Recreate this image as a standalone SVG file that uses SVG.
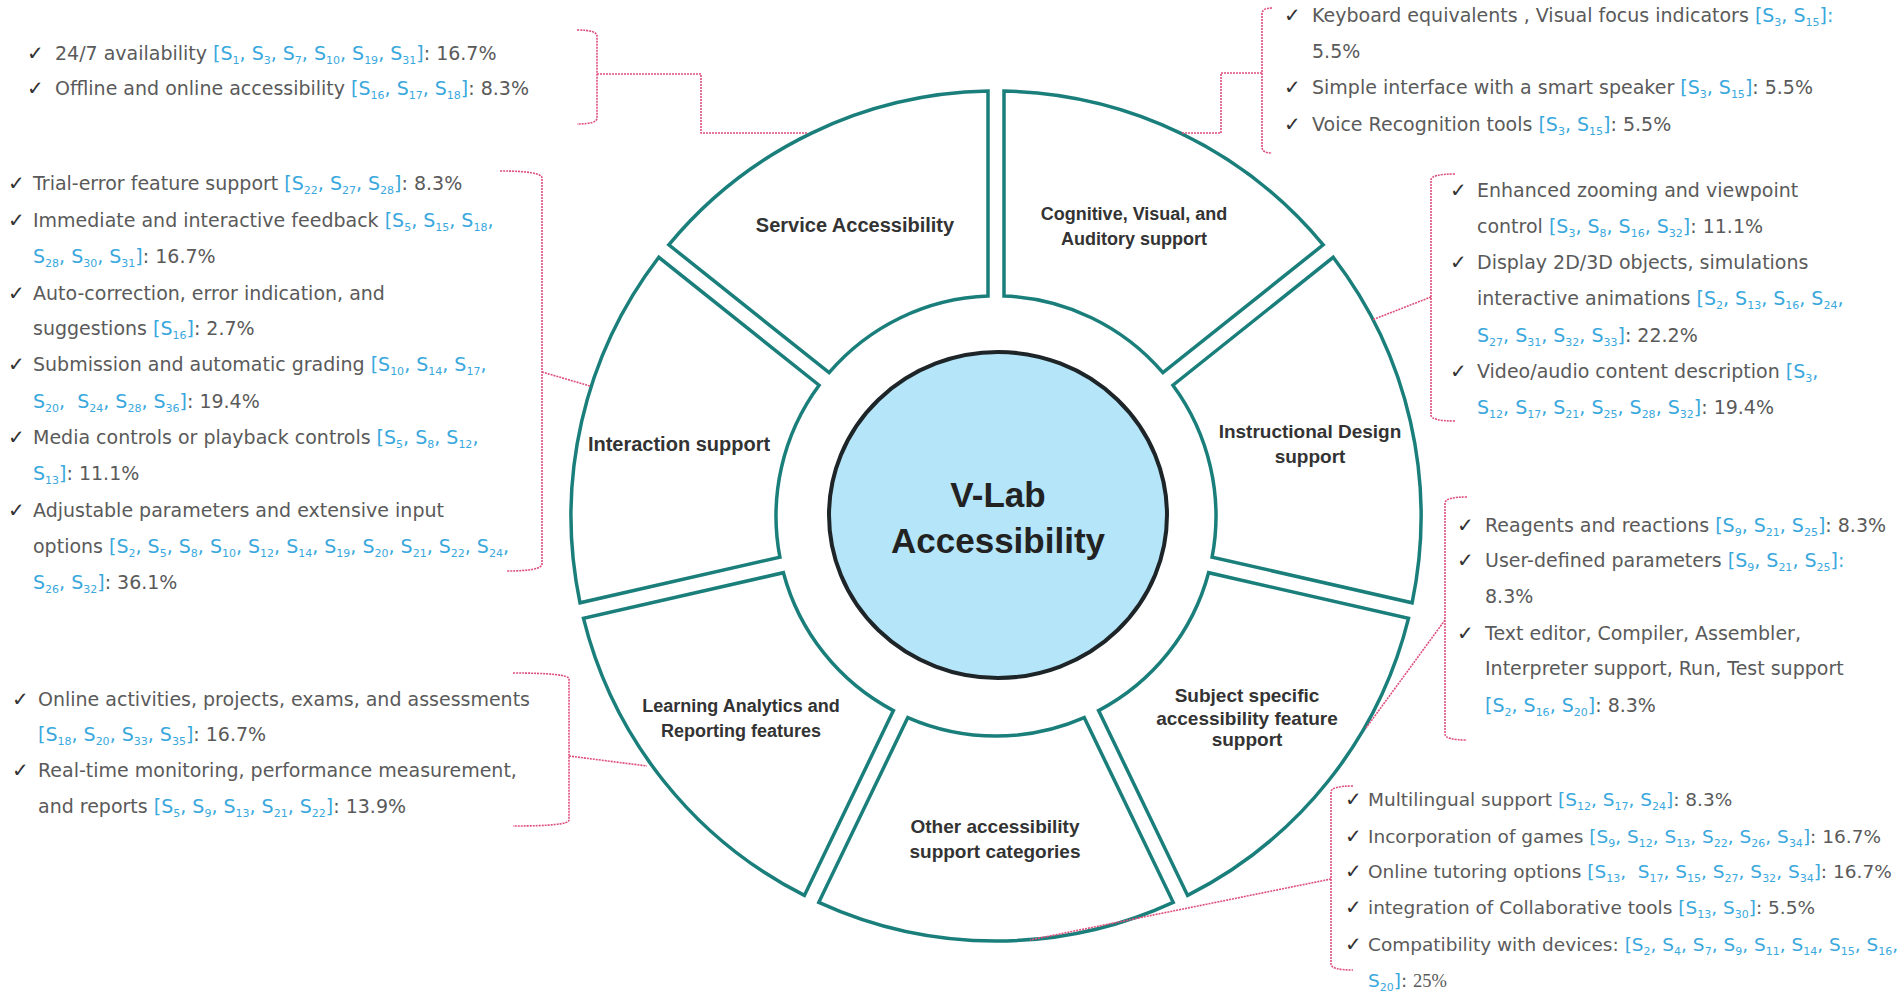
<svg xmlns="http://www.w3.org/2000/svg" width="1902" height="1001" viewBox="0 0 1902 1001">
<style>
.seg{fill:#fff;stroke:#1a7f7b;stroke-width:3.5;stroke-linejoin:miter}
.lbl{font-family:"Liberation Sans",Arial,sans-serif;font-weight:bold;fill:#333;text-anchor:middle}
.ctr{font-family:"Liberation Sans",Arial,sans-serif;font-weight:bold;font-size:35px;fill:#222;text-anchor:middle}
.t{font-family:"DejaVu Sans",sans-serif;font-size:19px;fill:#5a5a5a}
.tf{font-size:18.5px}
.r{fill:#3aa8dd}
.s{font-size:11px;baseline-shift:-4px}
.ck{font-family:"DejaVu Sans",sans-serif;font-size:20px;fill:#333}
.br{fill:none;stroke:#de4f7c;stroke-width:1.6;stroke-dasharray:2 1}
</style>
<rect width="1902" height="1001" fill="#fff"/>

<g id="seg-cognitive">
<path class="seg" d="M1004,91.1 A425,425 0 0 1 1323.2,244.8 L1162.9,372.7 A220,220 0 0 0 1004,296.1 Z"/>
<text class="lbl" font-size="18" x="1134" y="220">Cognitive, Visual, and</text>
<text class="lbl" font-size="18" x="1134" y="245">Auditory support</text>
</g>
<g id="seg-instructional">
<path class="seg" d="M1333.2,257.3 A425,425 0 0 1 1412.1,602.8 L1212.1,557.1 A220,220 0 0 0 1172.9,385.2 Z"/>
<text class="lbl" font-size="19" x="1310" y="438">Instructional Design</text>
<text class="lbl" font-size="19" x="1310" y="463">support</text>
</g>
<g id="seg-subject">
<path class="seg" d="M1408.5,618.4 A425,425 0 0 1 1187.6,895.4 L1098.6,710.6 A220,220 0 0 0 1208.6,572.7 Z"/>
<text class="lbl" font-size="19" x="1247" y="702">Subject specific</text>
<text class="lbl" font-size="19" x="1247" y="725">accessibility feature</text>
<text class="lbl" font-size="19" x="1247" y="746">support</text>
</g>
<g id="seg-other">
<path class="seg" d="M1173.2,902.3 A425,425 0 0 1 818.8,902.3 L907.8,717.6 A220,220 0 0 0 1084.2,717.6 Z"/>
<text class="lbl" font-size="19" x="995" y="833">Other accessibility</text>
<text class="lbl" font-size="19" x="995" y="858">support categories</text>
</g>
<g id="seg-learning">
<path class="seg" d="M804.4,895.4 A425,425 0 0 1 583.5,618.4 L783.4,572.7 A220,220 0 0 0 893.4,710.6 Z"/>
<text class="lbl" font-size="18" x="741" y="712">Learning Analytics and</text>
<text class="lbl" font-size="18" x="741" y="737">Reporting features</text>
</g>
<g id="seg-interaction">
<path class="seg" d="M580,602.8 A425,425 0 0 1 658.8,257.3 L819.1,385.2 A220,220 0 0 0 779.9,557.1 Z"/>
<text class="lbl" font-size="20" x="679" y="451">Interaction support</text>
</g>
<g id="seg-service">
<path class="seg" d="M668.8,244.8 A425,425 0 0 1 988,91.1 L988,296.1 A220,220 0 0 0 829.1,372.7 Z"/>
<text class="lbl" font-size="20" x="855" y="232">Service Accessibility</text>
</g>
<g id="center">
<ellipse cx="998" cy="515" rx="169" ry="163" fill="#b5e5f8" stroke="#1e2528" stroke-width="4"/>
<text class="ctr" x="998" y="507">V-Lab</text>
<text class="ctr" x="998" y="553">Accessibility</text>
</g>

<g id="connectors">
<path class="br" d="M577,30 Q597,30 597,36 L597,118 Q597,124 577,124 M597,74 H701 V133 H808"/>
<path class="br" d="M1272,8 Q1262,8 1262,14 V147 Q1262,153 1272,153 M1262,73 H1221 V133 H1181"/>
<path class="br" d="M500,171 Q542,171 542,178 V564 Q542,571 507,571 M542,372 L590,386"/>
<path class="br" d="M1455,174 Q1431,174 1431,180 V415 Q1431,421 1455,421 M1431,297 L1372,320"/>
<path class="br" d="M1467,497 Q1445,497 1445,503 V734 Q1445,740 1467,740 M1445,620 L1366,728"/>
<path class="br" d="M1353,786 Q1331,786 1331,792 V964 Q1331,970 1353,970 M1331,879 L1030,940"/>
<path class="br" d="M513,673 Q569,673 569,679 V820 Q569,826 513,826 M569,756 L647,766"/>
</g>

<g id="list-service">
<text class="ck" x="27" y="60">✓</text>
<text class="t" x="55" y="60" font-size="18.5">24/7 availability <tspan class="r">[S<tspan class="s">1</tspan>, S<tspan class="s">3</tspan>, S<tspan class="s">7</tspan>, S<tspan class="s">10</tspan>, S<tspan class="s">19</tspan>, S<tspan class="s">31</tspan>]</tspan>: 16.7%</text>
<text class="ck" x="27" y="95">✓</text>
<text class="t" x="55" y="95">Offline and online accessibility <tspan class="r">[S<tspan class="s">16</tspan>, S<tspan class="s">17</tspan>, S<tspan class="s">18</tspan>]</tspan>: 8.3%</text>
</g>

<g id="list-cognitive">
<text class="ck" x="1284" y="22">✓</text>
<text class="t" x="1312" y="22">Keyboard equivalents , Visual focus indicators <tspan class="r">[S<tspan class="s">3</tspan>, S<tspan class="s">15</tspan>]:</tspan></text>
<text class="t" x="1312" y="58">5.5%</text>
<text class="ck" x="1284" y="94">✓</text>
<text class="t" x="1312" y="94">Simple interface with a smart speaker <tspan class="r">[S<tspan class="s">3</tspan>, S<tspan class="s">15</tspan>]</tspan>: 5.5%</text>
<text class="ck" x="1284" y="131">✓</text>
<text class="t" x="1312" y="131">Voice Recognition tools <tspan class="r">[S<tspan class="s">3</tspan>, S<tspan class="s">15</tspan>]</tspan>: 5.5%</text>
</g>

<g id="list-interaction">
<text class="ck" x="8" y="190">✓</text>
<text class="t" x="33" y="190">Trial-error feature support <tspan class="r">[S<tspan class="s">22</tspan>, S<tspan class="s">27</tspan>, S<tspan class="s">28</tspan>]</tspan>: 8.3%</text>
<text class="ck" x="8" y="227">✓</text>
<text class="t" x="33" y="227">Immediate and interactive feedback <tspan class="r">[S<tspan class="s">5</tspan>, S<tspan class="s">15</tspan>, S<tspan class="s">18</tspan>,</tspan></text>
<text class="t" x="33" y="263"><tspan class="r">S<tspan class="s">28</tspan>, S<tspan class="s">30</tspan>, S<tspan class="s">31</tspan>]</tspan>: 16.7%</text>
<text class="ck" x="8" y="300">✓</text>
<text class="t" x="33" y="300">Auto-correction, error indication, and</text>
<text class="t" x="33" y="335">suggestions <tspan class="r">[S<tspan class="s">16</tspan>]</tspan>: 2.7%</text>
<text class="ck" x="8" y="371">✓</text>
<text class="t" x="33" y="371">Submission and automatic grading <tspan class="r">[S<tspan class="s">10</tspan>, S<tspan class="s">14</tspan>, S<tspan class="s">17</tspan>,</tspan></text>
<text class="t" x="33" y="408"><tspan class="r">S<tspan class="s">20</tspan>,&#160; S<tspan class="s">24</tspan>, S<tspan class="s">28</tspan>, S<tspan class="s">36</tspan>]</tspan>: 19.4%</text>
<text class="ck" x="8" y="444">✓</text>
<text class="t" x="33" y="444">Media controls or playback controls <tspan class="r">[S<tspan class="s">5</tspan>, S<tspan class="s">8</tspan>, S<tspan class="s">12</tspan>,</tspan></text>
<text class="t" x="33" y="480"><tspan class="r">S<tspan class="s">13</tspan>]</tspan>: 11.1%</text>
<text class="ck" x="8" y="517">✓</text>
<text class="t" x="33" y="517">Adjustable parameters and extensive input</text>
<text class="t" x="33" y="553">options <tspan class="r">[S<tspan class="s">2</tspan>, S<tspan class="s">5</tspan>, S<tspan class="s">8</tspan>, S<tspan class="s">10</tspan>, S<tspan class="s">12</tspan>, S<tspan class="s">14</tspan>, S<tspan class="s">19</tspan>, S<tspan class="s">20</tspan>, S<tspan class="s">21</tspan>, S<tspan class="s">22</tspan>, S<tspan class="s">24</tspan>,</tspan></text>
<text class="t" x="33" y="589"><tspan class="r">S<tspan class="s">26</tspan>, S<tspan class="s">32</tspan>]</tspan>: 36.1%</text>
</g>

<g id="list-instructional">
<text class="ck" x="1450" y="197">✓</text>
<text class="t" x="1477" y="197">Enhanced zooming and viewpoint</text>
<text class="t" x="1477" y="233">control <tspan class="r">[S<tspan class="s">3</tspan>, S<tspan class="s">8</tspan>, S<tspan class="s">16</tspan>, S<tspan class="s">32</tspan>]</tspan>: 11.1%</text>
<text class="ck" x="1450" y="269">✓</text>
<text class="t" x="1477" y="269">Display 2D/3D objects, simulations</text>
<text class="t" x="1477" y="305">interactive animations <tspan class="r">[S<tspan class="s">2</tspan>, S<tspan class="s">13</tspan>, S<tspan class="s">16</tspan>, S<tspan class="s">24</tspan>,</tspan></text>
<text class="t" x="1477" y="342"><tspan class="r">S<tspan class="s">27</tspan>, S<tspan class="s">31</tspan>, S<tspan class="s">32</tspan>, S<tspan class="s">33</tspan>]</tspan>: 22.2%</text>
<text class="ck" x="1450" y="378">✓</text>
<text class="t" x="1477" y="378">Video/audio content description <tspan class="r">[S<tspan class="s">3</tspan>,</tspan></text>
<text class="t" x="1477" y="414"><tspan class="r">S<tspan class="s">12</tspan>, S<tspan class="s">17</tspan>, S<tspan class="s">21</tspan>, S<tspan class="s">25</tspan>, S<tspan class="s">28</tspan>, S<tspan class="s">32</tspan>]</tspan>: 19.4%</text>
</g>

<g id="list-subject">
<text class="ck" x="1457" y="532">✓</text>
<text class="t" x="1485" y="532">Reagents and reactions <tspan class="r">[S<tspan class="s">9</tspan>, S<tspan class="s">21</tspan>, S<tspan class="s">25</tspan>]</tspan>: 8.3%</text>
<text class="ck" x="1457" y="567">✓</text>
<text class="t" x="1485" y="567">User-defined parameters <tspan class="r">[S<tspan class="s">9</tspan>, S<tspan class="s">21</tspan>, S<tspan class="s">25</tspan>]:</tspan></text>
<text class="t" x="1485" y="603">8.3%</text>
<text class="ck" x="1457" y="640">✓</text>
<text class="t" x="1485" y="640">Text editor, Compiler, Assembler,</text>
<text class="t" x="1485" y="675">Interpreter support, Run, Test support</text>
<text class="t" x="1485" y="712"><tspan class="r">[S<tspan class="s">2</tspan>, S<tspan class="s">16</tspan>, S<tspan class="s">20</tspan>]</tspan>: 8.3%</text>
</g>

<g id="list-other">
<text class="ck" x="1345" y="806">✓</text>
<text class="t tf" x="1368" y="806">Multilingual support <tspan class="r">[S<tspan class="s">12</tspan>, S<tspan class="s">17</tspan>, S<tspan class="s">24</tspan>]</tspan>: 8.3%</text>
<text class="ck" x="1345" y="843">✓</text>
<text class="t tf" x="1368" y="843">Incorporation of games <tspan class="r">[S<tspan class="s">9</tspan>, S<tspan class="s">12</tspan>, S<tspan class="s">13</tspan>, S<tspan class="s">22</tspan>, S<tspan class="s">26</tspan>, S<tspan class="s">34</tspan>]</tspan>: 16.7%</text>
<text class="ck" x="1345" y="878">✓</text>
<text class="t tf" x="1368" y="878">Online tutoring options <tspan class="r">[S<tspan class="s">13</tspan>,&#160; S<tspan class="s">17</tspan>, S<tspan class="s">15</tspan>, S<tspan class="s">27</tspan>, S<tspan class="s">32</tspan>, S<tspan class="s">34</tspan>]</tspan>: 16.7%</text>
<text class="ck" x="1345" y="914">✓</text>
<text class="t tf" x="1368" y="914">integration of Collaborative tools <tspan class="r">[S<tspan class="s">13</tspan>, S<tspan class="s">30</tspan>]</tspan>: 5.5%</text>
<text class="ck" x="1345" y="951">✓</text>
<text class="t tf" x="1368" y="951">Compatibility with devices: <tspan class="r">[S<tspan class="s">2</tspan>, S<tspan class="s">4</tspan>, S<tspan class="s">7</tspan>, S<tspan class="s">9</tspan>, S<tspan class="s">11</tspan>, S<tspan class="s">14</tspan>, S<tspan class="s">15</tspan>, S<tspan class="s">16</tspan>,</tspan></text>
<text class="t tf" x="1368" y="987"><tspan class="r">S<tspan class="s">20</tspan>]</tspan>: <tspan font-family="'Liberation Serif',serif">25%</tspan></text>
</g>

<g id="list-learning">
<text class="ck" x="12" y="706">✓</text>
<text class="t" x="38" y="706" font-size="19.5">Online activities, projects, exams, and assessments</text>
<text class="t" x="38" y="741"><tspan class="r">[S<tspan class="s">18</tspan>, S<tspan class="s">20</tspan>, S<tspan class="s">33</tspan>, S<tspan class="s">35</tspan>]</tspan>: 16.7%</text>
<text class="ck" x="12" y="777">✓</text>
<text class="t" x="38" y="777" font-size="19.5">Real-time monitoring, performance measurement,</text>
<text class="t" x="38" y="813">and reports <tspan class="r">[S<tspan class="s">5</tspan>, S<tspan class="s">9</tspan>, S<tspan class="s">13</tspan>, S<tspan class="s">21</tspan>, S<tspan class="s">22</tspan>]</tspan>: 13.9%</text>
</g>
</svg>
